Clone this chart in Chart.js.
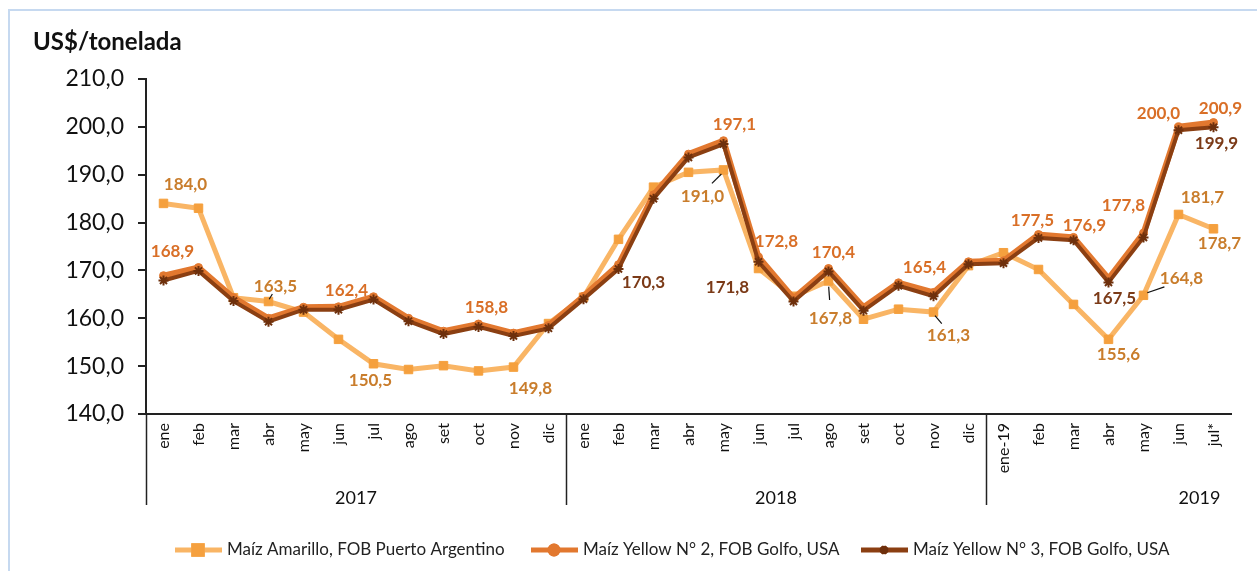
<!DOCTYPE html>
<html lang="es">
<head>
<meta charset="utf-8">
<title>Precios del maíz</title>
<script src="https://cdn.jsdelivr.net/npm/chart.js@4.4.1/dist/chart.umd.min.js"></script>
<style>
  html, body { margin: 0; padding: 0; background: #fff; }
  #wrap { position: relative; width: 1257px; height: 571px; }
</style>
</head>
<body>
<div id="wrap"><canvas id="chart" width="1257" height="571"></canvas></div>
<script>
// Month labels by year, years shown under each group
const months2017 = ['ene', 'feb', 'mar', 'abr', 'may', 'jun', 'jul', 'ago', 'set', 'oct', 'nov', 'dic'];
const months2018 = ['ene', 'feb', 'mar', 'abr', 'may', 'jun', 'jul', 'ago', 'set', 'oct', 'nov', 'dic'];
const months2019 = ['ene-19', 'feb', 'mar', 'abr', 'may', 'jun', 'jul*'];
const years = ['2017', '2018', '2019'];
const categories = [...months2017, ...months2018, ...months2019];

// US$/tonelada
const maizArgentino = [
  184.0, 183.0, 164.3, 163.5, 161.3, 155.6, 150.5, 149.3, 150.1, 149.0, 149.8, 158.9,
  164.4, 176.5, 187.4, 190.5, 191.0, 170.4, 164.6, 167.8, 159.8, 161.9, 161.3, 171.0,
  173.7, 170.2, 162.9, 155.6, 164.8, 181.7, 178.7
];
const maizYellow2 = [
  168.9, 170.6, 164.3, 160.0, 162.3, 162.4, 164.5, 160.0, 157.3, 158.8, 156.9, 158.5,
  164.6, 171.2, 185.8, 194.3, 197.1, 172.8, 164.2, 170.4, 162.3, 167.4, 165.4, 171.8,
  172.0, 177.5, 176.9, 168.3, 177.8, 200.0, 200.9
];
const maizYellow3 = [
  167.9, 169.9, 163.6, 159.3, 161.8, 161.8, 163.9, 159.4, 156.7, 158.2, 156.3, 157.9,
  164.0, 170.3, 185.0, 193.6, 196.4, 171.8, 163.5, 169.8, 161.6, 166.8, 164.6, 171.3,
  171.5, 176.8, 176.3, 167.5, 176.9, 199.3, 199.9
];

const yTicks = [140, 150, 160, 170, 180, 190, 200, 210];

// which points carry a value label: [series, index]
const labeledPoints = [
  [0, 0], [0, 3], [0, 6], [0, 10], [0, 16], [0, 19], [0, 22], [0, 27], [0, 28], [0, 29], [0, 30],
  [1, 0], [1, 5], [1, 9], [1, 16], [1, 17], [1, 19], [1, 22], [1, 25], [1, 26], [1, 28], [1, 29], [1, 30],
  [2, 13], [2, 17], [2, 27], [2, 30]
];

// label placement relative to the point (px), leader = draw a thin connector
const LABEL_OFFSETS = {
  '0-0': [22, -19], '0-3': [7, -15, true], '0-6': [-3, 17], '0-10': [17, 21],
  '0-16': [-21, 27, true], '0-19': [2, 38, true], '0-22': [15, 23, true],
  '0-27': [10, 15], '0-28': [38, -17, true], '0-29': [24, -17], '0-30': [6, 15],
  '1-0': [9, -24], '1-5': [8, -16], '1-9': [8, -17], '1-16': [11, -16], '1-17': [18, -16],
  '1-19': [5, -16], '1-22': [-9, -25], '1-25': [-6, -14], '1-26': [11, -12],
  '1-28': [-20, -28], '1-29': [-20, -13], '1-30': [7, -14],
  '2-13': [25, 14], '2-17': [-31, 26], '2-27': [6, 16], '2-30': [3, 16]
};

const SERIES_NAMES = [
  'Maíz Amarillo, FOB Puerto Argentino',
  'Maíz Yellow N° 2, FOB Golfo, USA',
  'Maíz Yellow N° 3, FOB Golfo, USA'
];
const LINE_COLORS = ['#F9B565', '#E2782F', '#8B3F12'];
const MARKER_COLORS = ['#F5A03E', '#E2782F', '#6E300C'];
const LABEL_COLORS = ['#C97D2C', '#D96F27', '#7B3A17'];
const FONT = 'Lato, "Open Sans", sans-serif';

function fmt(v) {
  return v.toFixed(1).replace('.', ',');
}

const decorPlugin = {
  id: 'decor',
  beforeDraw(chart) {
    const ctx = chart.ctx;
    ctx.save();
    ctx.fillStyle = '#fff';
    ctx.fillRect(0, 0, chart.width, chart.height);
    // outer frame
    ctx.strokeStyle = '#C6D9F0';
    ctx.lineWidth = 2;
    ctx.strokeRect(9, 10, chart.width + 10, chart.height + 10);
    // title
    ctx.fillStyle = '#111';
    ctx.font = 'bold 24px ' + FONT;
    ctx.textBaseline = 'alphabetic';
    ctx.fillText('US$/tonelada', 33, 50);
    ctx.restore();
  },
  afterDraw(chart) {
    const ctx = chart.ctx;
    const x = chart.scales.x;
    const area = chart.chartArea;
    ctx.save();

    // year separators and group labels
    ctx.strokeStyle = '#222';
    ctx.lineWidth = 1.5;
    const seps = [area.left,
      (x.getPixelForValue(11) + x.getPixelForValue(12)) / 2,
      (x.getPixelForValue(23) + x.getPixelForValue(24)) / 2];
    seps.forEach(px => {
      ctx.beginPath();
      ctx.moveTo(Math.round(px) + 0.5, area.bottom);
      ctx.lineTo(Math.round(px) + 0.5, area.bottom + 91);
      ctx.stroke();
    });
    ctx.fillStyle = '#111';
    ctx.font = '18px ' + FONT;
    ctx.textAlign = 'center';
    ctx.textBaseline = 'middle';
    const yearCenters = [
      (x.getPixelForValue(0) + x.getPixelForValue(11)) / 2,
      (x.getPixelForValue(12) + x.getPixelForValue(23)) / 2,
      x.getPixelForValue(29.6)
    ];
    years.forEach((yr, i) => ctx.fillText(yr, yearCenters[i], area.bottom + 84));

    // value labels
    ctx.font = 'bold 17px ' + FONT;
    labeledPoints.forEach(([s, i]) => {
      const pt = chart.getDatasetMeta(s).data[i];
      const off = LABEL_OFFSETS[s + '-' + i] || [0, -16];
      const lx = pt.x + off[0];
      const ly = pt.y + off[1];
      if (off[2]) {
        ctx.strokeStyle = '#111';
        ctx.lineWidth = 1.2;
        ctx.beginPath();
        ctx.moveTo(pt.x + off[0] * 0.1, pt.y + off[1] * 0.15);
        ctx.lineTo(pt.x + off[0] * 0.55, pt.y + off[1] * 0.5);
        ctx.stroke();
      }
      ctx.fillStyle = LABEL_COLORS[s];
      ctx.fillText(fmt(chart.data.datasets[s].data[i]), lx, ly);
    });

    // legend
    const legendY = 550;
    const starts = [175, 531, 861];
    const styles = ['rect', 'circle', 'star'];
    ctx.font = '17px ' + FONT;
    ctx.textAlign = 'left';
    SERIES_NAMES.forEach((name, i) => {
      const sx = starts[i];
      ctx.strokeStyle = LINE_COLORS[i];
      ctx.lineWidth = 5;
      ctx.beginPath();
      ctx.moveTo(sx, legendY);
      ctx.lineTo(sx + 47, legendY);
      ctx.stroke();
      Chart.helpers.drawPoint(ctx, {
        pointStyle: styles[i], radius: i === 0 ? 6 : 4, borderWidth: i === 2 ? 2 : 1
      }, sx + 23, legendY);
      ctx.fillStyle = MARKER_COLORS[i];
      ctx.strokeStyle = MARKER_COLORS[i];
      ctx.fill();
      ctx.stroke();
      ctx.fillStyle = '#222';
      ctx.fillText(name, sx + 52, legendY);
    });
    ctx.restore();
  }
};

const datasets = [maizArgentino, maizYellow2, maizYellow3].map((values, i) => ({
  label: SERIES_NAMES[i],
  data: values,
  borderColor: LINE_COLORS[i],
  backgroundColor: MARKER_COLORS[i],
  pointBackgroundColor: MARKER_COLORS[i],
  pointBorderColor: MARKER_COLORS[i],
  borderWidth: [5, 6, 4][i],
  pointStyle: ['rect', 'circle', 'star'][i],
  pointRadius: [6, 4, 5][i],
  pointBorderWidth: [1, 1, 2][i],
  tension: 0,
  order: 3 - i
}));

new Chart(document.getElementById('chart').getContext('2d'), {
  type: 'line',
  data: { labels: categories, datasets: datasets },
  options: {
    responsive: false,
    animation: false,
    layout: { padding: { left: 46, right: 26, top: 79, bottom: 57 } },
    plugins: {
      legend: { display: false },
      tooltip: { enabled: false }
    },
    scales: {
      x: {
        offset: true,
        grid: { drawOnChartArea: false, drawTicks: false },
        border: { display: true, color: '#222', width: 2 },
        ticks: {
          autoSkip: false,
          minRotation: 90,
          maxRotation: 90,
          padding: 9,
          color: '#111',
          font: { family: FONT, size: 16 }
        },
        afterFit: scale => { scale.height = 100; }
      },
      y: {
        min: 140,
        max: 210,
        afterBuildTicks: scale => { scale.ticks = yTicks.map(v => ({ value: v })); },
        grid: { drawOnChartArea: false, drawTicks: true, tickLength: 8, color: '#222', lineWidth: 2 },
        border: { display: true, color: '#222', width: 2 },
        ticks: {
          padding: 14,
          color: '#111',
          font: { family: FONT, size: 23 },
          callback: v => fmt(v)
        },
        afterFit: scale => { scale.width = 100; }
      }
    }
  },
  plugins: [decorPlugin]
});
</script>
</body>
</html>
